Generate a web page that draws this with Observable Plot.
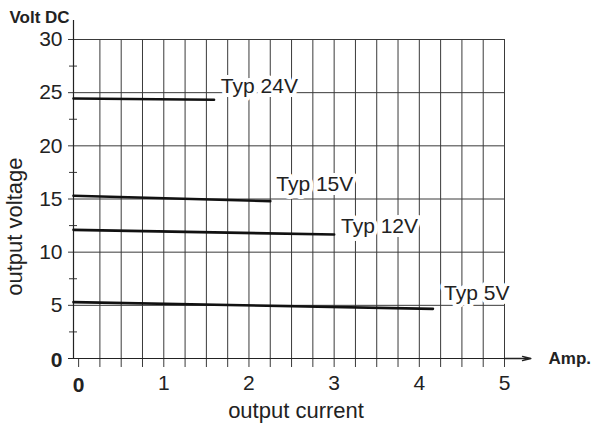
<!DOCTYPE html>
<html><head><meta charset="utf-8">
<script src="https://cdn.jsdelivr.net/npm/d3@7"></script>
<script src="https://cdn.jsdelivr.net/npm/@observablehq/plot@0.6"></script>
<style>body{margin:0;background:#fff}</style>
</head><body><div id="chart"></div>
<script>
// Series (current in A, voltage in V DC)
const seriesNames = ["Typ 24V", "Typ 15V", "Typ 12V", "Typ 5V"];
const current24 = [-0.06, 1.59], volt24 = [24.45, 24.34];
const current15 = [-0.06, 2.25], volt15 = [15.3, 14.8];
const current12 = [-0.06, 3.0],  volt12 = [12.1, 11.66];
const current5  = [-0.06, 4.16], volt5  = [5.3, 4.67];
// Label anchor points
const labelCurrent = [1.67, 2.32, 3.08, 4.29];
const labelVolt = [25.6, 16.4, 12.4, 6.1];
// Axes
const xTicks = [0, 1, 2, 3, 4, 5];
const xGrid = [0.25,0.5,0.75,1,1.25,1.5,1.75,2,2.25,2.5,2.75,3,3.25,3.5,3.75,4,4.25,4.5,4.75,5];
const yTicks = [0, 5, 10, 15, 20, 25, 30];
const yMinor = [2.5, 7.5, 12.5, 17.5, 22.5, 27.5];
const xMin = -0.06, xMax = 5;
const yTitlePos = 12.4;

const currents = [current24, current15, current12, current5];
const volts = [volt24, volt15, volt12, volt5];
const rows = [];
seriesNames.forEach((s, k) => currents[k].forEach((c, j) => rows.push({series: s, current: c, voltage: volts[k][j]})));
const labels = seriesNames.map((s, k) => ({text: s, current: labelCurrent[k], voltage: labelVolt[k]}));

const ink = "#222";
const gridC = "#3a3a3a";
const font = "Liberation Sans, Arial, Helvetica, sans-serif";

const chart = Plot.plot({
  width: 595, height: 425,
  marginLeft: 73, marginRight: 91, marginTop: 39, marginBottom: 67,
  style: {fontFamily: font, background: "white", color: ink},
  x: {domain: [xMin, xMax], axis: null},
  y: {domain: [0, 30], axis: null},
  marks: [
    Plot.ruleY(yTicks.filter(d => d > 0), {y: d => d, insetLeft: -5, stroke: gridC, strokeWidth: 1}),
    Plot.ruleX(xGrid, {x: d => d, insetBottom: -9, stroke: gridC, strokeWidth: 1}),
    Plot.ruleX([0], {x: d => d, insetTop: 319, insetBottom: -9, stroke: gridC, strokeWidth: 1}),
    Plot.ruleY(yMinor, {y: d => d, insetLeft: -4, insetRight: 427, stroke: gridC, strokeWidth: 1}),
    Plot.ruleY([0], {y: d => d, insetLeft: -5, insetRight: -24, stroke: ink, strokeWidth: 1.2}),
    Plot.arrow([0], {x1: xMax, x2: 5.31, y1: 0, y2: 0, headLength: 10, headAngle: 28, stroke: ink, strokeWidth: 1.3}),
    Plot.ruleX([xMin], {x: d => d, insetTop: -19, stroke: ink, strokeWidth: 1.2}),
    Plot.line(rows, {x: "current", y: "voltage", z: "series", stroke: "#111", strokeWidth: 2.6}),
    Plot.text(labels, {x: "current", y: "voltage", text: "text", textAnchor: "start", lineAnchor: "middle",
      fontSize: 21, fill: ink, stroke: "white", strokeWidth: 8, strokeLinejoin: "round"}),
    Plot.text(yTicks.filter(d => d > 0), {y: d => d, text: d => String(d), frameAnchor: "left", dx: -11,
      textAnchor: "end", lineAnchor: "middle", fontSize: 21, fill: ink}),
    Plot.text([0], {y: d => d, text: d => String(d), frameAnchor: "left", dx: -11, dy: 2,
      textAnchor: "end", lineAnchor: "middle", fontSize: 21, fontWeight: "bold", fill: ink}),
    Plot.text(xTicks.filter(d => d > 0), {x: d => d, text: d => String(d), frameAnchor: "bottom", dy: 25,
      lineAnchor: "middle", fontSize: 21, fill: ink}),
    Plot.text([0], {x: d => d, text: d => String(d), frameAnchor: "bottom", dy: 27,
      lineAnchor: "middle", fontSize: 21, fontWeight: "bold", fill: ink}),
    Plot.text(["output current"], {text: d => d, frameAnchor: "bottom", dx: 7, dy: 52,
      lineAnchor: "middle", fontSize: 22, fill: ink}),
    Plot.text(["output voltage"], {text: d => d, y: yTitlePos, frameAnchor: "left", dx: -59, rotate: -90,
      textAnchor: "middle", lineAnchor: "middle", fontSize: 22, fill: ink}),
    Plot.text(["Volt DC"], {text: d => d, frameAnchor: "top-left", dx: -64, dy: -22,
      textAnchor: "start", lineAnchor: "middle", fontSize: 17, fontWeight: "bold", fill: ink}),
    Plot.text(["Amp."], {text: d => d, frameAnchor: "bottom-right", dx: 44, dy: 0,
      textAnchor: "start", lineAnchor: "middle", fontSize: 17, fontWeight: "bold", fill: ink})
  ]
});
document.getElementById("chart").appendChild(chart);
</script>
</body></html>
